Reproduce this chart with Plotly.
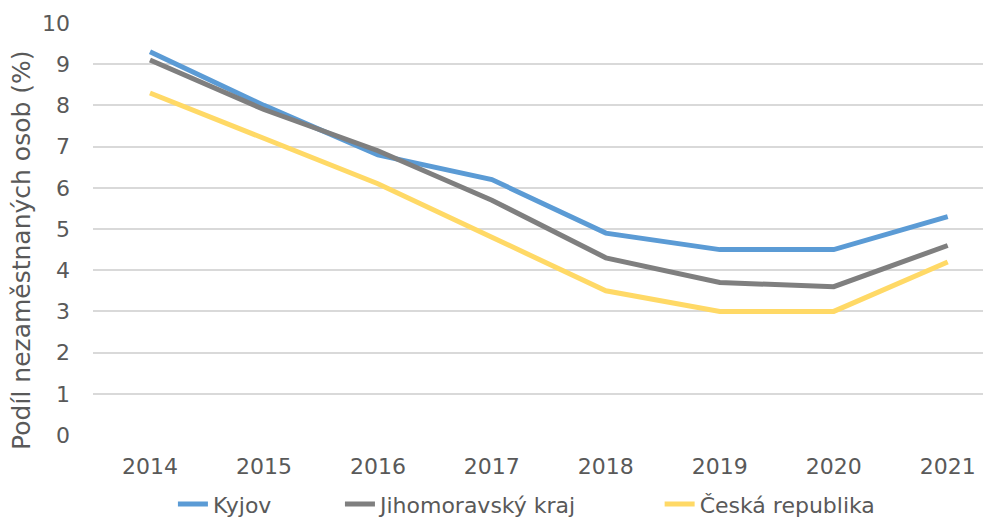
import plotly.graph_objects as go

years = ["2014", "2015", "2016", "2017", "2018", "2019", "2020", "2021"]
kyjov = [9.3, 8.0, 6.8, 6.2, 4.9, 4.5, 4.5, 5.3]
jmk = [9.1, 7.9, 6.9, 5.7, 4.3, 3.7, 3.6, 4.6]
cr = [8.3, 7.2, 6.1, 4.8, 3.5, 3.0, 3.0, 4.2]
names = ["Kyjov", "Jihomoravský kraj", "Česká republika"]
colors = ["#5B9BD5", "#7F7F7F", "#FFD966"]
legend_ids = ["legend", "legend2", "legend3"]
legend_x = [0.089, 0.275, 0.631]
y_title = "Podíl nezaměstnaných osob (%)"

font = dict(family="Verdana, DejaVu Sans, sans-serif", size=22, color="#595959")

fig = go.Figure()
for name, vals, col, lid in zip(names, [kyjov, jmk, cr], colors, legend_ids):
    fig.add_trace(go.Scatter(x=years, y=vals, name=name, mode="lines",
                             line=dict(color=col, width=5), legend=lid))

leg_common = dict(orientation="h", xanchor="left", y=-0.168, yanchor="middle",
                  font=font, bgcolor="rgba(0,0,0,0)")
fig.update_layout(
    width=983, height=512,
    margin=dict(l=85, r=0, t=15, b=85, autoexpand=False),
    plot_bgcolor="white", paper_bgcolor="white",
    font=font,
    xaxis=dict(type="category", range=[-0.5, 7.38], showgrid=False,
               showline=False, ticks="", tickfont=font, ticklabelstandoff=16),
    yaxis=dict(range=[0, 10], dtick=1, showgrid=True, gridcolor="#D9D9D9",
               gridwidth=1.5, zeroline=False, showline=False, tickfont=font,
               ticklabelstandoff=22),
    legend=dict(x=legend_x[0], **leg_common),
    legend2=dict(x=legend_x[1], **leg_common),
    legend3=dict(x=legend_x[2], **leg_common),
    showlegend=True,
    annotations=[dict(text=y_title, xref="paper", yref="paper", x=-0.079, y=0.447,
                      xanchor="center", yanchor="middle", textangle=-90, showarrow=False,
                      font=dict(family=font["family"], size=25, color="#595959"))],
)
fig.write_html("out.html")
